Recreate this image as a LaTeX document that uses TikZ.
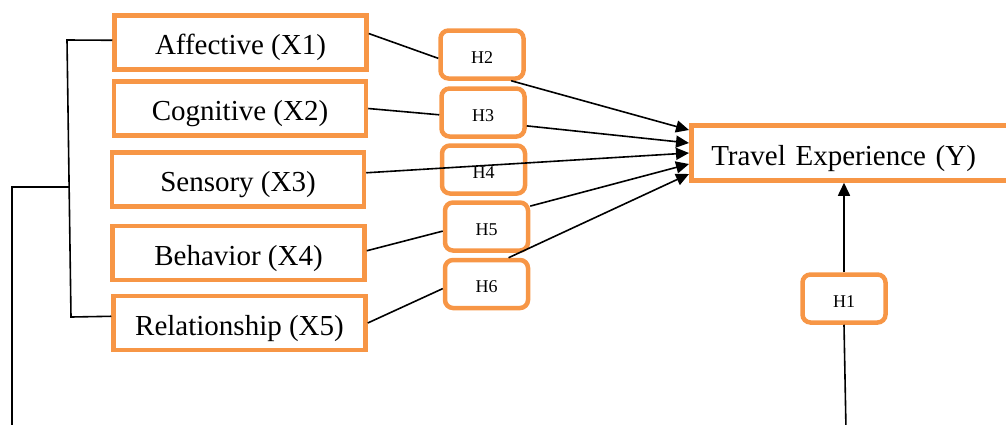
\documentclass[tikz,border=0pt]{standalone}
\usepackage{fontspec}
\setmainfont{Liberation Serif}
\usetikzlibrary{arrows.meta,calc,positioning}
\definecolor{boxorange}{RGB}{247,150,70}

\begin{document}
\begin{tikzpicture}[x=1pt,y=-1pt,
    xbox/.style={draw=boxorange,line width=4.5pt,minimum width=252pt,minimum height=54pt,
        inner sep=0pt,text height=24pt,text depth=0pt,font=\fontsize{29}{34}\selectfont},
    hbox/.style={draw=boxorange,line width=4.5pt,rounded corners=8pt,minimum width=83pt,
        minimum height=48pt,inner sep=0pt,text height=17pt,text depth=0pt,
        font=\fontsize{18}{22}\selectfont},
    link/.style={line width=1.6pt},
    hyp/.style={line width=1.6pt,-{Triangle[length=13pt,width=12pt]}}]
    \useasboundingbox (0,0) rectangle (1006,424);
    \clip (0,0) rectangle (1006,424);
    % dimensions
    \node[xbox] (X1) at (240.5,42.5) {Affective (X1)};
    \node[xbox] (X2) at (240,108.5) {Cognitive (X2)};
    \node[xbox] (X3) at (238,179.5) {Sensory (X3)};
    \node[xbox] (X4) at (238.5,253) {Behavior (X4)};
    \node[xbox] (X5) at (239.5,323) {Relationship (X5)};
    \node[xbox,anchor=west,minimum width=330pt,minimum height=55pt,text width=290pt,
        align=left,inner xsep=20pt] (Y) at (689,153) {Travel Experience (Y)};
    % hypotheses
    \node[hbox] (H2) at (482,54.5) {H2};
    \node[hbox] (H3) at (483,112.5) {H3};
    \node[hbox] (H4) at (483.5,169.5) {H4};
    \node[hbox] (H5) at (486.5,226.5) {H5};
    \node[hbox] (H6) at (486.5,284) {H6};
    \node[hbox] (H1) at (844,298.5) {H1};
    % paths to Y
    \draw[link] (X1.4) -- (H2.-175);
    \draw[hyp] (H2.-42) -- ($(Y.west)+(0,-23)$);
    \draw[link] (X2.east) -- (H3.-177);
    \draw[hyp] (H3.-17) -- ($(Y.west)+(0,-10)$);
    \draw[hyp] (X3.3) -- (Y.west);
    \draw[link] (X4.1) -- (H5.-174);
    \draw[hyp] (H5.25) -- ($(Y.west)+(0,11)$);
    \draw[link] (X5.east) -- (H6.-174);
    \draw[hyp] (H6.50) -- ($(Y.west)+(0,21)$);
    % bracket and H1
    \draw[link] (X1.179) -- (67,40) coordinate (btop)
        -- (71,317) coordinate (bbot) -- (X5.177);
    \coordinate (bmid) at ($(btop)!0.53!(bbot)$);
    \coordinate (Lbase) at (12,430);
    \draw[link] (bmid) -- (bmid -| Lbase) -- (Lbase);
    \coordinate (Hbase) at (846,430);
    \draw[link] (Hbase) -- (H1.south);
    \draw[hyp] (H1.north) -- (H1.north |- Y.south);
\end{tikzpicture}
\end{document}
